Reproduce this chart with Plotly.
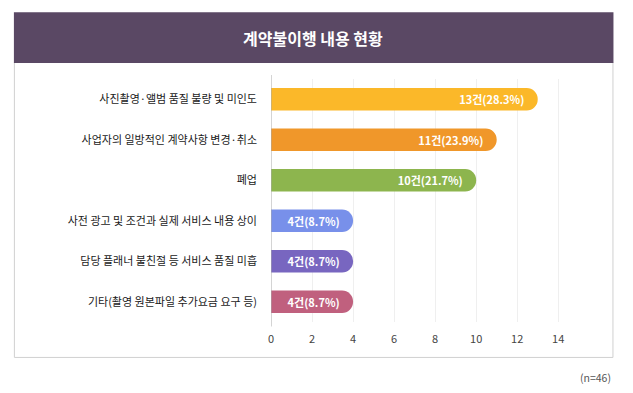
import plotly.graph_objects as go

categories = ["사진촬영·앨범 품질 불량 및 미인도", "사업자의 일방적인 계약사항 변경·취소", "폐업",
              "사전 광고 및 조건과 실제 서비스 내용 상이", "담당 플래너 불친절 등 서비스 품질 미흡",
              "기타(촬영 원본파일 추가요금 요구 등)"]
counts = [13, 11, 10, 4, 4, 4]
percents = [28.3, 23.9, 21.7, 8.7, 8.7, 8.7]
colors = ["#FBB829", "#F0972A", "#8DB54E", "#7890EA", "#7866C0", "#C0607E"]
x_ticks = [0, 2, 4, 6, 8, 10, 12, 14]
title = "계약불이행 내용 현황"
note = "(n=46)"

FONT = "Noto Sans CJK KR"
OFF = 8  # page body margin
W, H = 633 - OFF, 393 - OFF
# page coordinates of the plot area
PL, PR, PT, PB = 271, 589.5, 79, 322.5
L, R, T, B = PL - OFF, W - (PR - OFF), PT - OFF, H - (PB - OFF)

labels = [f"{c}건({p}%)\u00a0\u2009" for c, p in zip(counts, percents)]

fig = go.Figure(go.Bar(
    x=counts, y=categories, orientation="h",
    marker=dict(color=colors, cornerradius=11, line=dict(width=0)),
    text=labels, textposition="inside", insidetextanchor="end",
    textfont=dict(family=FONT, size=11, color="white", weight="bold"),
    cliponaxis=False, hoverinfo="skip",
))

fig.update_layout(
    width=W, height=H, margin=dict(l=L, r=R, t=T, b=B, autoexpand=False),
    paper_bgcolor="white", plot_bgcolor="white",
    showlegend=False, bargap=0.44,
    font=dict(family=FONT, color="#333"),
    xaxis=dict(range=[0, 15.5], tickvals=x_ticks, showgrid=True, gridcolor="#EFEFEF",
               gridwidth=1, zeroline=False, showline=False, ticks="",
               tickfont=dict(size=11, color="#444"), ticklabelstandoff=9, fixedrange=True),
    yaxis=dict(autorange="reversed", showgrid=False, zeroline=False, showline=False,
               ticks="", tickfont=dict(size=11, color="#1A1A1A"), ticklabelstandoff=13,
               fixedrange=True),
)

def py(y):
    return 1 - ((y - OFF) - T) / (H - T - B)

def px_(x):
    return ((x - OFF) - L) / (W - L - R)

shapes = [
    dict(type="rect", xref="paper", yref="paper", x0=px_(14), x1=px_(613.5), y0=py(62.5), y1=py(358),
         line=dict(color="#D0D0D0", width=1), fillcolor="rgba(0,0,0,0)", layer="below"),
    dict(type="rect", xref="paper", yref="paper", x0=px_(13.5), x1=px_(614), y0=py(12), y1=py(63),
         line=dict(width=0), fillcolor="#5A4864", layer="below"),
    dict(type="line", xref="x", yref="paper", x0=0, x1=0, y0=py(327), y1=py(75),
         line=dict(color="#AAAAAA", width=1), layer="above"),
]
fig.update_layout(shapes=shapes)

fig.add_annotation(text=f"<b>{title}</b>", xref="paper", yref="paper",
                   x=px_(313.5), y=py(37.5), xanchor="center", yanchor="middle",
                   showarrow=False, font=dict(family=FONT, size=16, color="white"))
fig.add_annotation(text=note, xref="paper", yref="paper", x=px_(614), y=py(378),
                   xanchor="right", yanchor="middle", showarrow=False,
                   font=dict(family=FONT, size=10.5, color="#555"))

fig.write_html("out.html")
